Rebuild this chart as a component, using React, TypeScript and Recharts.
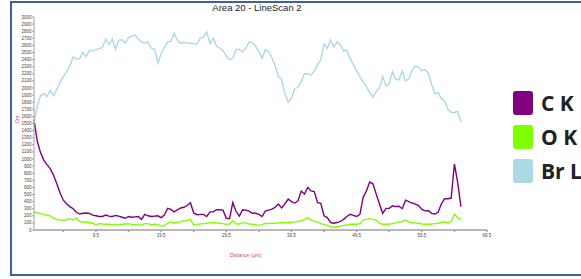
import { LineChart, Line, XAxis, YAxis } from 'recharts';

// counts per 0.5 um step along the line scan
const C_K = [
    1555, 1250, 1090, 985, 920, 860, 770, 650, 520, 420, 370, 330, 300, 250, 225, 235, 240, 235, 210, 200,
    190, 190, 210, 195, 190, 205, 195, 180, 165, 190, 180, 185, 190, 150, 220, 200, 190, 195, 200, 175,
    210, 305, 290, 255, 285, 310, 320, 345, 385, 240, 215, 220, 220, 190, 255, 255, 285, 285, 280, 165,
    160, 385, 260, 195, 285, 280, 265, 235, 235, 220, 190, 270, 280, 295, 320, 365, 310, 370, 435, 400,
    380, 410, 550, 505, 600, 550, 540, 385, 375, 200, 175, 105, 95, 105, 120, 150, 190, 220, 205, 190,
    220, 460, 550, 675, 650, 505, 365, 235, 305, 305, 340, 330, 335, 300, 420, 400, 380, 365, 345, 290,
    270, 275, 235, 225, 250, 370, 440, 440, 450, 930, 670, 330,
];

const O_K = [
    250, 245, 230, 220, 210, 200, 165, 150, 140, 135, 145, 160, 140, 170, 120, 110, 115, 105, 95, 70,
    90, 85, 80, 80, 75, 70, 75, 80, 85, 90, 80, 75, 70, 70, 90, 90, 75, 80, 75, 55,
    60, 95, 115, 95, 110, 115, 130, 135, 150, 70, 80, 85, 90, 95, 100, 105, 100, 95, 90, 80,
    85, 130, 85, 85, 100, 100, 85, 80, 75, 65, 75, 95, 90, 95, 95, 100, 105, 100, 105, 110,
    115, 120, 130, 145, 175, 140, 125, 115, 90, 80, 65, 45, 35, 45, 55, 65, 70, 80, 80, 80,
    90, 140, 150, 160, 150, 140, 95, 80, 80, 85, 90, 100, 110, 120, 140, 115, 105, 100, 95, 85,
    80, 80, 85, 90, 95, 105, 115, 100, 120, 225, 175, 150,
];

const BR_L = [
    1500, 1750, 1890, 1920, 1880, 1965, 1890, 1980, 2080, 2160, 2230, 2310, 2440, 2410, 2410, 2500, 2440, 2530, 2520, 2540,
    2555, 2570, 2690, 2610, 2690, 2545, 2675, 2680, 2630, 2710, 2730, 2745, 2690, 2650, 2630, 2650, 2560, 2545, 2355, 2480,
    2570, 2650, 2660, 2770, 2670, 2630, 2640, 2635, 2630, 2625, 2620, 2700, 2720, 2790, 2630, 2700, 2590, 2560, 2530, 2450,
    2400, 2420, 2540, 2545, 2510, 2560, 2650, 2640, 2590, 2510, 2420, 2540, 2510, 2430, 2310, 2160, 2120, 1920, 1800, 1860,
    1990, 2010, 2090, 2200, 2200, 2185, 2240, 2330, 2400, 2620, 2560, 2675, 2580, 2650, 2610, 2520, 2535, 2410, 2330, 2240,
    2160, 2085, 2020, 1940, 1870, 1950, 2000, 2160, 2030, 2060, 2230, 2120, 2115, 2240, 2100, 2130, 2250, 2310, 2295, 2245,
    2260, 2210, 2050, 1920, 1935, 1850, 1820, 1700, 1655, 1655, 1670, 1520,
];

const STEP = 0.5;
const DISTANCE = C_K.map((_, i) => i * STEP);

const X_TICKS = [4.5, 9.5, 14.5, 19.5, 24.5, 29.5, 34.5, 39.5, 44.5, 49.5, 54.5, 59.5, 64.5, 69.5];
const X_LABELS = [9.5, 19.5, 29.5, 39.5, 49.5, 59.5, 69.5];
const Y_TICKS = Array.from({ length: 31 }, (_, i) => i * 100);

// legend text is cut by the right edge of the picture, as in the original
const SERIES = [
    { key: 'c', name: 'C K', color: '#800080', values: C_K },
    { key: 'o', name: 'O K', color: '#80ff00', values: O_K },
    { key: 'br', name: 'Br L', color: '#add8e6', values: BR_L },
];

const data = DISTANCE.map((d, i) => ({
    d,
    c: C_K[i],
    o: O_K[i],
    br: BR_L[i],
}));

const FONT = '"Liberation Sans", Arial, sans-serif';

export default function App() {
    return (
        <div
            style={{
                position: 'fixed',
                left: 0,
                top: 0,
                width: 581,
                height: 279,
                overflow: 'hidden',
                background: '#fff',
                fontFamily: FONT,
            }}
        >
            <div
                style={{
                    position: 'absolute',
                    left: 10,
                    top: 1,
                    width: 620,
                    height: 271,
                    border: '2px solid #3f5f9f',
                }}
            />
            <div
                style={{
                    position: 'absolute',
                    left: 0,
                    width: 514,
                    top: 2,
                    textAlign: 'center',
                    fontSize: 9.5,
                    color: '#222',
                }}
            >
                Area 20 - LineScan 2
            </div>
            <div style={{ position: 'absolute', left: 0, top: 0 }}>
                <LineChart
                    width={581}
                    height={279}
                    data={data}
                    margin={{ top: 17, right: 94, bottom: 29, left: 0 }}
                >
                    <XAxis
                        dataKey="d"
                        type="number"
                        domain={[0, 69.5]}
                        ticks={X_TICKS}
                        interval={0}
                        height={20}
                        stroke="#a0a0a0"
                        strokeWidth={1.5}
                        tickSize={2}
                        tick={{ fontSize: 4.5, fill: '#444', fontFamily: FONT }}
                        tickFormatter={(v: number) => (X_LABELS.includes(v) ? String(v) : '')}
                        label={{
                            value: 'Distance (µm)',
                            position: 'insideBottom',
                            offset: -7,
                            fontSize: 5,
                            fill: '#d0406a',
                            dx: -15,
                        }}
                    />
                    <YAxis
                        type="number"
                        domain={[0, 3000]}
                        ticks={Y_TICKS}
                        interval={0}
                        width={34}
                        stroke="#a0a0a0"
                        tickSize={2}
                        tickMargin={0.5}
                        tick={{ fontSize: 4.5, fill: '#444', fontFamily: FONT }}
                        label={{
                            value: 'Cnt',
                            angle: -90,
                            position: 'insideLeft',
                            offset: 17,
                            fontSize: 5,
                            fill: '#d0406a',
                        }}
                    />
                    {SERIES.map((s) => (
                        <Line
                            key={s.key}
                            dataKey={s.key}
                            name={s.name}
                            stroke={s.color}
                            strokeWidth={1.4}
                            dot={false}
                            isAnimationActive={false}
                        />
                    ))}
                </LineChart>
            </div>
            {SERIES.map((s, i) => (
                <div
                    key={s.key}
                    style={{
                        position: 'absolute',
                        left: 513,
                        top: 91 + i * 34,
                        display: 'flex',
                        alignItems: 'center',
                        whiteSpace: 'nowrap',
                    }}
                >
                    <div
                        style={{
                            width: 20,
                            height: 24,
                            borderRadius: 3,
                            background: s.color,
                        }}
                    />
                    <span
                        style={{
                            marginLeft: 8,
                            fontSize: 21,
                            lineHeight: '24px',
                            fontWeight: 'bold',
                            color: '#222',
                            fontFamily: '"Open Sans", "Noto Sans", sans-serif',
                        }}
                    >
                        {s.name}
                    </span>
                </div>
            ))}
        </div>
    );
}
